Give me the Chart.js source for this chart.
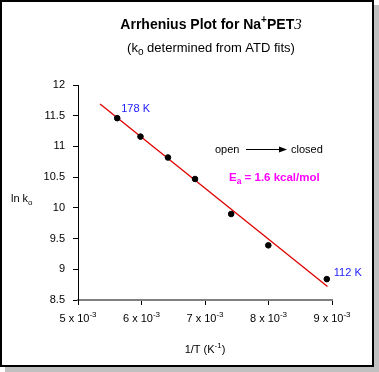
<!DOCTYPE html>
<html>
<head>
<meta charset="utf-8">
<script src="https://cdn.jsdelivr.net/npm/chart.js@4"></script>
<style>
  html, body { margin: 0; padding: 0; background: #fff; }
</style>
</head>
<body>
<canvas id="myChart" width="379" height="372"></canvas>
<script>
'use strict';

/////// DATA ///////
// 1/T in K^-1, ln k0
let invT = [0.005618, 0.005984, 0.006417, 0.006843, 0.007412, 0.007997, 0.008918];
let lnK = [11.46, 11.16, 10.82, 10.47, 9.90, 9.39, 8.84];
// ends of the red fit line
let fitX = [0.005348, 0.008929];
let fitY = [11.69, 8.72];
let xTicks = [0.005, 0.006, 0.007, 0.008, 0.009];
let xTickMant = ['5', '6', '7', '8', '9'];
let yTicks = [8.5, 9, 9.5, 10, 10.5, 11, 11.5, 12];

const FONT = '"Liberation Sans", Arial, Helvetica, sans-serif';

//////// helpers ////////
// parts: [{t, f(ont), dy}] drawn left to right
function drawParts(ctx, parts, x, y, align, color) {
  let w = 0;
  parts.forEach(p => { ctx.font = p.f; w += ctx.measureText(p.t).width; });
  let cx = align === 'center' ? x - w / 2 : (align === 'right' ? x - w : x);
  ctx.fillStyle = color || '#000';
  ctx.textAlign = 'left';
  ctx.textBaseline = 'alphabetic';
  parts.forEach(p => {
    ctx.font = p.f;
    ctx.fillText(p.t, cx, y + (p.dy || 0));
    cx += ctx.measureText(p.t).width;
  });
}

/////// frame + texts plugin ///////
const decor = {
  id: 'decor',
  beforeDraw(chart) {
    const ctx = chart.ctx;
    ctx.save();
    ctx.fillStyle = '#c0c0c0';
    ctx.fillRect(5, 5, 374, 367);
    ctx.fillStyle = '#fff';
    ctx.fillRect(0, 0, 373, 366);
    ctx.strokeStyle = '#000';
    ctx.lineWidth = 2;
    ctx.strokeRect(1, 1, 372, 365);
    ctx.restore();
  },
  afterDraw(chart) {
    const ctx = chart.ctx;
    const xs = chart.scales.x;
    const ys = chart.scales.y;
    ctx.save();

    // titles
    const b14 = 'bold 14px ' + FONT;
    drawParts(ctx, [
      {t: 'Arrhenius Plot for Na', f: b14},
      {t: '+', f: 'bold 10px ' + FONT, dy: -6},
      {t: 'PET', f: b14},
      {t: '3', f: 'italic 15px "Liberation Serif", "Times New Roman", serif'}
    ], 211, 29, 'center');
    const r13 = '13px ' + FONT;
    drawParts(ctx, [
      {t: '(k', f: r13},
      {t: 'o', f: '10px ' + FONT, dy: 3},
      {t: ' determined from ATD fits)', f: r13}
    ], 211, 52, 'center');

    // x tick labels
    const r11 = '11px ' + FONT;
    for (let i = 0; i < xTicks.length; i++) {
      let px = xs.getPixelForValue(xTicks[i]);
      drawParts(ctx, [
        {t: xTickMant[i] + ' x 10', f: r11},
        {t: '-3', f: '8px ' + FONT, dy: -5}
      ], px, 322, 'center');
    }

    // axis titles
    drawParts(ctx, [
      {t: '1/T (K', f: r11},
      {t: '-1', f: '8px ' + FONT, dy: -5},
      {t: ')', f: r11}
    ], (xs.left + xs.right) / 2, 353, 'center');
    drawParts(ctx, [
      {t: 'ln k', f: r11},
      {t: 'o', f: '8px ' + FONT, dy: 3}
    ], 11, 202, 'left');

    // temperature labels
    const blue = '#1a1aff';
    let p0x = xs.getPixelForValue(invT[0]);
    let p0y = ys.getPixelForValue(lnK[0]);
    drawParts(ctx, [{t: '178 K', f: r11}], p0x + 4, p0y - 6, 'left', blue);
    let p6x = xs.getPixelForValue(invT[6]);
    let p6y = ys.getPixelForValue(lnK[6]);
    drawParts(ctx, [{t: '112 K', f: r11}], p6x + 7, p6y - 3, 'left', blue);

    // open -> closed
    drawParts(ctx, [{t: 'open', f: r11}], 215, 153, 'left');
    ctx.strokeStyle = '#000';
    ctx.lineWidth = 1;
    ctx.beginPath();
    ctx.moveTo(246, 149.5);
    ctx.lineTo(281, 149.5);
    ctx.stroke();
    ctx.fillStyle = '#000';
    ctx.beginPath();
    ctx.moveTo(287, 149.5);
    ctx.lineTo(279, 146.5);
    ctx.lineTo(279, 152.5);
    ctx.closePath();
    ctx.fill();
    drawParts(ctx, [{t: 'closed', f: r11}], 291, 153, 'left');

    // Ea
    const m = '#ff00ff';
    drawParts(ctx, [
      {t: 'E', f: 'bold 11.5px ' + FONT},
      {t: 'a', f: 'bold 8.5px ' + FONT, dy: 3},
      {t: ' = 1.6 kcal/mol', f: 'bold 11.5px ' + FONT}
    ], 229, 181, 'left', m);

    ctx.restore();
  }
};

/////// CHART ///////
const ctx = document.getElementById('myChart');
const myChart = new Chart(ctx, {
  type: 'scatter',
  data: {
    datasets: [{
      label: 'fit',
      data: fitX.map((x, i) => ({x: x, y: fitY[i]})),
      showLine: true,
      borderColor: '#e00000',
      borderWidth: 1.3,
      pointRadius: 0,
      order: 2
    },
    {
      label: 'ln k0',
      data: invT.map((x, i) => ({x: x, y: lnK[i]})),
      backgroundColor: '#000',
      borderColor: '#000',
      pointRadius: 2.8,
      order: 1
    }]
  },
  options: {
    responsive: false,
    animation: false,
    devicePixelRatio: 1,
    layout: { padding: { left: 0, right: 47, top: 85, bottom: 0 } },
    plugins: {
      legend: { display: false },
      tooltip: { enabled: false }
    },
    scales: {
      x: {
        type: 'linear',
        min: 0.005,
        max: 0.009,
        afterBuildTicks: s => { s.ticks = xTicks.map(v => ({value: v})); },
        afterFit: s => { s.height = 72; },
        ticks: { display: false },
        grid: { drawOnChartArea: false, drawTicks: true, tickLength: 5, tickColor: '#000', lineWidth: 1 },
        border: { color: '#808080', width: 2 }
      },
      y: {
        type: 'linear',
        min: 8.5,
        max: 12,
        afterBuildTicks: s => { s.ticks = yTicks.map(v => ({value: v})); },
        afterFit: s => { s.width = 78; },
        ticks: {
          color: '#000',
          padding: 8,
          font: { family: FONT, size: 11 },
          callback: v => String(v)
        },
        grid: { drawOnChartArea: false, drawTicks: true, tickLength: 5, tickColor: '#000', lineWidth: 1 },
        border: { color: '#000', width: 1 }
      }
    }
  },
  plugins: [decor]
});
</script>
</body>
</html>
